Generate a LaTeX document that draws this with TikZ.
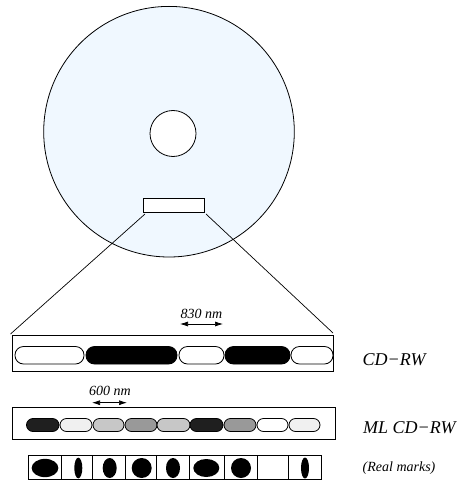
\documentclass[tikz,border=0pt]{standalone}
\usepackage{fontspec}
\setmainfont{Liberation Serif}
\usetikzlibrary{arrows.meta}
\definecolor{discblue}{RGB}{240,248,255}
\tikzset{
  x=1pt,y=-1pt,
  outl/.style={draw=black,line width=0.8pt},
  pill/.style={outl,rounded corners=6.5pt},
  pillb/.style={outl,rounded corners=8.5pt},
  lab/.style={font=\itshape\fontsize{18pt}{20pt}\selectfont,anchor=west,inner sep=0pt},
  dim/.style={font=\itshape\fontsize{14pt}{16pt}\selectfont,inner sep=0pt},
  dimarrow/.style={draw=black,line width=0.7pt,{Latex[length=8pt,width=5pt]}-{Latex[length=8pt,width=5pt]}}
}
\begin{document}
\begin{tikzpicture}
\useasboundingbox (0,0) rectangle (462,481);
\fill[white] (0,0) rectangle (462,481);
% disc
\node[circle,outl,fill=discblue,minimum size=250.6pt,inner sep=0pt] (disc) at (169,131.7) {};
\node[circle,outl,fill=white,minimum size=46pt,inner sep=0pt] (hole) at (173,133.5) {};
\node[rectangle,outl,fill=white,minimum width=61pt,minimum height=13.5pt,inner sep=0pt] (win) at (174,205.3) {};
% strips
\node[rectangle,outl,minimum width=321pt,minimum height=36.5pt,inner sep=0pt] (cd) at (172.5,353.5) {};
\coordinate (zl) at (10.5,334);
\coordinate (zr) at (333,333);
\coordinate (wl) at (145,214);
\coordinate (wr) at (206,214);
\draw[line width=0.7pt] (wl) -- (zl);
\draw[line width=0.7pt] (wr) -- (zr);
\foreach \a/\b/\c in {15/84/white,86/177/black,179/224/white,225/290/black,291/333/white}{
  \draw[pillb,fill=\c] (\a,346.5) rectangle (\b,364);
}
\node[rectangle,outl,minimum width=322.5pt,minimum height=32pt,inner sep=0pt] (ml) at (173.7,423) {};
\foreach \a/\b/\g in {26.5/59/12,60/92/94,93/124/78,125/157/60,157/190/78,190/223/12,224/256/60,257/288/100,289/320/94}{
  \draw[pill,fill=black!\the\numexpr100-\g\relax] (\a,418.5) rectangle (\b,431.5);
}
% real marks
\foreach \a/\b in {28/61.7,61.7/92.7,92.7/125,125/156.7,156.7/189,189/224.3,224.3/257.7,257.7/288.3,288.3/321.7}{
  \draw[outl] (\a,455.5) rectangle (\b,479.5);
}
\foreach \x/\w/\h in {45/26.7/18.3,78.3/8/20.7,109.7/14/20,141.7/20/20,173/14/20,206.3/26/18,241/20/20,305/8/21}{
  \fill[black] (\x,468) ellipse [x radius=\w/2,y radius=\h/2];
}
% labels
\node[lab] (l1) at (362.5,360) {CD−RW};
\node[lab] (l2) at (363,428) {ML CD−RW};
\node[lab,font=\itshape\fontsize{14pt}{16pt}\selectfont] (l3) at (362.5,468) {(Real marks)};
\node[dim] (d1) at (201.5,314) {830 nm};
\node[dim] (d2) at (110,391) {600 nm};
\coordinate (d1a) at (180,324);
\coordinate (d1b) at (223,324);
\coordinate (d2a) at (92,402.7);
\coordinate (d2b) at (127,402.7);
\draw[dimarrow] (d1a) -- (d1b);
\draw[dimarrow] (d2a) -- (d2b);
\end{tikzpicture}
\end{document}
